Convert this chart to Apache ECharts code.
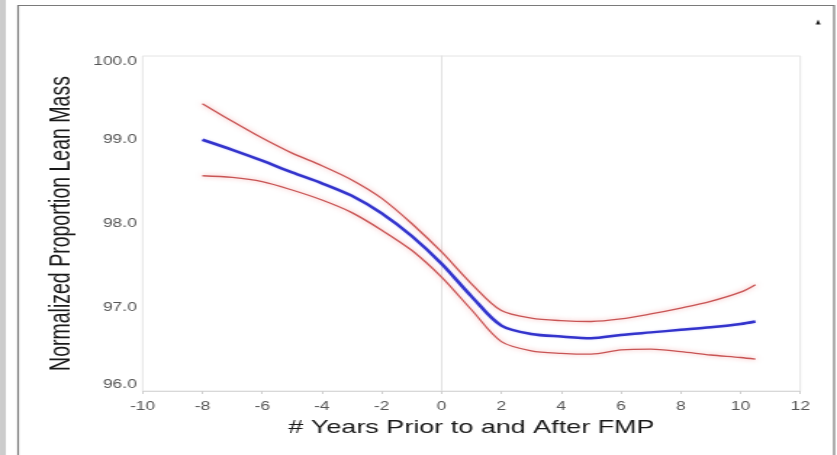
<!DOCTYPE html>
<html>
<head>
<meta charset="utf-8">
<script src="https://cdn.jsdelivr.net/npm/echarts@6/dist/echarts.min.js"></script>
<style>
  html, body { margin: 0; padding: 0; background: #fff; overflow: hidden; }
  #wrap { width: 837px; height: 455px; overflow: hidden; }
  /* the figure is laid out narrow and widened horizontally */
  #chart { width: 577px; height: 455px; transform: scaleX(1.4506); transform-origin: 0 0; }
</style>
</head>
<body>
<div id="wrap"><div id="chart"></div></div>
<script>
// Years relative to the final menstrual period (FMP)
const years = [-8, -7, -6, -5, -4, -3, -2, -1, 0, 1, 2, 3, 4, 5, 6, 7, 8, 9, 10, 10.5];
// Estimated normalized proportion of lean mass
const estimate = [99.00, 98.88, 98.75, 98.61, 98.48, 98.33, 98.12, 97.85, 97.52, 97.13,
                  96.78, 96.68, 96.65, 96.63, 96.67, 96.70, 96.73, 96.76, 96.80, 96.83];
// Upper and lower 95% confidence limits
const upperCL = [99.43, 99.22, 99.02, 98.84, 98.69, 98.52, 98.30, 98.00, 97.66, 97.28,
                 96.96, 96.87, 96.84, 96.83, 96.86, 96.92, 96.99, 97.07, 97.18, 97.27];
const lowerCL = [98.57, 98.55, 98.50, 98.40, 98.28, 98.13, 97.92, 97.68, 97.36, 96.97,
                 96.59, 96.48, 96.45, 96.44, 96.49, 96.50, 96.47, 96.43, 96.40, 96.38];
const xTicks = { min: -10, max: 12, step: 2 };
const yTicks = { min: 96, max: 100, step: 1 };
const fmpYear = 0;

const pairs = ys => years.map((x, i) => [x, ys[i]]);

const chart = echarts.init(document.getElementById('chart'), null, { renderer: 'canvas' });
const font = 'Liberation Sans, Arial, sans-serif';

const redLine = {
  color: '#c85454', width: 1.3,
  shadowColor: 'rgba(240,130,130,0.7)', shadowBlur: 4
};

chart.setOption({
  animation: false,
  backgroundColor: '#fff',
  grid: {
    left: 98.3, right: 25.3, top: 56, bottom: 64,
    show: true, borderColor: '#e4e4e4', borderWidth: 1
  },
  xAxis: {
    type: 'value',
    min: xTicks.min, max: xTicks.max, interval: xTicks.step,
    name: '# Years Prior to and After FMP',
    nameLocation: 'middle', nameGap: 26,
    nameTextStyle: { fontFamily: font, fontSize: 18.6, color: '#1a1a1a' },
    axisLine: { show: true, lineStyle: { color: '#d8d8d8', width: 1 } },
    axisTick: { show: true, length: 3, lineStyle: { color: '#cfcfcf' } },
    axisLabel: { fontFamily: font, fontSize: 12, color: '#555', margin: 10 },
    splitLine: { show: false }
  },
  yAxis: {
    type: 'value',
    min: yTicks.min, max: yTicks.max, interval: yTicks.step,
    name: 'Normalized Proportion Lean Mass',
    nameLocation: 'middle', nameGap: 46,
    nameTextStyle: { fontFamily: font, fontSize: 19.5, color: '#1a1a1a' },
    axisLine: { show: true, lineStyle: { color: '#e0e0e0', width: 1 } },
    axisTick: { show: false },
    axisLabel: {
      fontFamily: font, fontSize: 12, color: '#555', margin: 4,
      verticalAlignMinLabel: 'bottom', verticalAlignMaxLabel: 'top',
      formatter: v => v.toFixed(1)
    },
    splitLine: { show: false }
  },
  graphic: [
    { type: 'line', shape: { x1: 1, y1: 0, x2: 1, y2: 455 }, style: { stroke: '#9a9a9a', lineWidth: 1 } },
    { type: 'line', shape: { x1: 3, y1: 0, x2: 3, y2: 455 }, style: { stroke: '#9a9a9a', lineWidth: 1 } },
    { type: 'rect', shape: { x: 12.5, y: 5.5, width: 562.5, height: 460 },
      style: { fill: 'none', stroke: '#7a7a7a', lineWidth: 1.2 } },
    { type: 'polygon', shape: { points: [[562.3, 24.5], [565.7, 24.5], [564, 19.5]] },
      style: { fill: '#222' } }
  ],
  series: [
    {
      // reference line at the FMP, kept underneath the curves
      name: 'FMP', type: 'line', data: [], z: 1, silent: true,
      markLine: {
        silent: true, symbol: 'none', label: { show: false }, z: 1,
        lineStyle: { color: '#e2e2e2', width: 1, type: 'solid' },
        data: [{ xAxis: fmpYear }]
      }
    },
    {
      name: 'Upper CL', type: 'line', data: pairs(upperCL),
      showSymbol: false, smooth: 0.3, lineStyle: redLine, z: 3
    },
    {
      name: 'Lower CL', type: 'line', data: pairs(lowerCL),
      showSymbol: false, smooth: 0.3, lineStyle: redLine, z: 3
    },
    {
      name: 'Estimate', type: 'line', data: pairs(estimate),
      showSymbol: false, smooth: 0.3,
      lineStyle: { color: '#3434cc', width: 2.5, shadowColor: 'rgba(140,140,240,0.45)', shadowBlur: 2 },
      z: 4
    }
  ]
});
</script>
</body>
</html>
